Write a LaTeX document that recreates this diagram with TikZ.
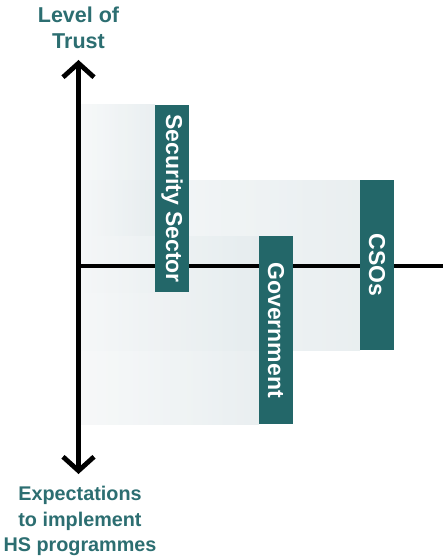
\documentclass[tikz,border=0pt]{standalone}
\usepackage{fontspec}
\setmainfont{Liberation Sans}
\usetikzlibrary{arrows.meta,positioning}
\definecolor{hsteal}{RGB}{35,103,105}
\definecolor{hstext}{RGB}{44,110,113}
\definecolor{hsshadeA}{RGB}{228,235,237}
\definecolor{hsshadeB}{RGB}{245,247,248}

\begin{document}
\begin{tikzpicture}[
    x=1pt, y=-1pt,
    bar/.style={rectangle, fill=hsteal, text=white, rotate=-90, minimum width=#1, minimum height=34pt, inner sep=0pt, font=\fontsize{23}{25}\selectfont\bfseries},
    backshade/.style={left color=hsshadeB, right color=hsshadeA, draw=none, opacity=0.8},
    axis/.style={line width=4.8pt, -{Straight Barb[length=14pt, width=31pt, line width=4.8pt]}},
    label/.style={align=center, text=hstext, font=\fontsize{#1}{25.5}\selectfont\bfseries}
]

% Canvas
\useasboundingbox[fill=white] (0,0) rectangle (443,556);

% Axes
\coordinate (origin) at (78.5,266);
\coordinate (top) at (78.5,60);
\coordinate (bottom) at (78.5,474);
\coordinate (right) at (443,266);

% Shaded areas behind the bars
\shade[backshade] (81,180) rectangle (360,350);
\shade[backshade] (81,105) rectangle (155,292);
\shade[backshade] (81,236) rectangle (259,424);

\draw[line width=4.8pt] (origin) -- (right);
\draw[axis] (origin) -- (top);
\draw[axis] (origin) -- (bottom);

% Bars
\node[bar=187pt] (security) at (172,198.5) {Security Sector};
\node[bar=188pt] (government) at (276,330) {Government};
\node[bar=170pt] (csos) at (377,265) {CSOs};

% Axis labels
\node[label=21.5] (trust) at (78.5,28) {Level of\\Trust};
\node[label=19.8] (expect) at (80,521) {Expectations\\to implement\\HS programmes};

\end{tikzpicture}
\end{document}
